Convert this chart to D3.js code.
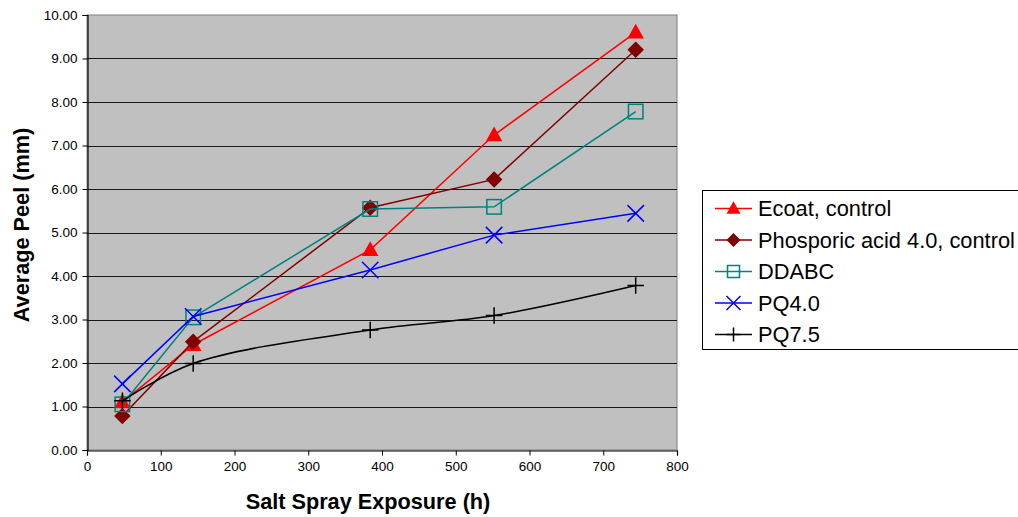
<!DOCTYPE html>
<html>
<head>
<meta charset="utf-8">
<script src="https://cdn.jsdelivr.net/npm/d3@7"></script>
<style>
  html, body { margin: 0; padding: 0; background: #fff; }
  svg { display: block; font-family: "Liberation Sans", Arial, sans-serif; }
</style>
</head>
<body>
<svg id="chart" width="1018" height="517"></svg>
<script>
// Exposure times (h)
const hours = [48, 144, 384, 552, 744];

// Average peel (mm) per coating
const ecoatControl = [1.10, 2.42, 4.60, 7.24, 9.60];
const phosporicControl = [0.78, 2.49, 5.57, 6.22, 9.20];
const ddabc = [1.05, 3.05, 5.54, 5.59, 7.78];
const pq40 = [1.52, 3.07, 4.14, 4.94, 5.44];
const pq75 = [1.13, 1.99, 2.76, 3.09, 3.78];

const seriesNames = ["Ecoat, control", "Phosporic acid 4.0, control", "DDABC", "PQ4.0", "PQ7.5"];
const yTicks = [0, 1, 2, 3, 4, 5, 6, 7, 8, 9, 10];
const xTicks = [0, 100, 200, 300, 400, 500, 600, 700, 800];

const series = [
  { name: seriesNames[0], values: ecoatControl, color: "#FF0000", marker: "triangle", smooth: false },
  { name: seriesNames[1], values: phosporicControl, color: "#800000", marker: "diamond", smooth: false },
  { name: seriesNames[2], values: ddabc, color: "#008080", marker: "square", smooth: false },
  { name: seriesNames[3], values: pq40, color: "#0000FF", marker: "x", smooth: false },
  { name: seriesNames[4], values: pq75, color: "#000000", marker: "plus", smooth: true }
];

const svg = d3.select("#chart");
const plot = { left: 87, top: 15, right: 677, bottom: 450 };

const x = d3.scaleLinear().domain([0, 800]).range([plot.left, plot.right]);
const y = d3.scaleLinear().domain([0, 10]).range([plot.bottom, plot.top]);

// plot background
svg.append("rect")
  .attr("x", plot.left).attr("y", plot.top)
  .attr("width", plot.right - plot.left).attr("height", plot.bottom - plot.top)
  .attr("fill", "#C0C0C0").attr("stroke", "#808080").attr("stroke-width", 1);

// horizontal gridlines
svg.append("g").selectAll("line")
  .data(yTicks.slice(1, -1))
  .join("line")
  .attr("x1", plot.left).attr("x2", plot.right)
  .attr("y1", d => Math.round(y(d)) + 0.5).attr("y2", d => Math.round(y(d)) + 0.5)
  .attr("stroke", "#1a1a1a").attr("stroke-width", 1);

// axes
const yAxis = svg.append("g")
  .attr("transform", `translate(${plot.left + 0.5},0)`)
  .call(d3.axisLeft(y).tickValues(yTicks).tickFormat(d3.format(".2f")).tickSize(5).tickPadding(5));
const xAxis = svg.append("g")
  .attr("transform", `translate(0,${plot.bottom + 0.5})`)
  .call(d3.axisBottom(x).tickValues(xTicks).tickFormat(d3.format("d")).tickSize(5).tickPadding(6));

[yAxis, xAxis].forEach(g => {
  g.select(".domain").attr("stroke", "#000").attr("stroke-width", 1.2);
  g.selectAll(".tick line").attr("stroke", "#000");
  g.selectAll(".tick text").attr("fill", "#000").attr("font-size", 13.5)
    .attr("font-family", "'Liberation Sans', Arial, sans-serif");
});

// axis titles
svg.append("text")
  .attr("x", 368).attr("y", 509)
  .attr("text-anchor", "middle")
  .attr("font-size", 21.7).attr("font-weight", "bold")
  .text("Salt Spray Exposure (h)");

svg.append("text")
  .attr("transform", "translate(29,225) rotate(-90)")
  .attr("text-anchor", "middle")
  .attr("font-size", 21.7).attr("font-weight", "bold")
  .text("Average Peel (mm)");

// marker drawing
function drawMarker(g, type, color, size) {
  const s = size / 2;
  if (type === "triangle") {
    g.append("path").attr("d", `M0,${-s * 1.05}L${s},${s * 0.75}L${-s},${s * 0.75}Z`).attr("fill", color);
  } else if (type === "diamond") {
    g.append("path").attr("d", `M0,${-s}L${s},0L0,${s}L${-s},0Z`).attr("fill", color);
  } else if (type === "square") {
    g.append("rect").attr("x", -s + 1).attr("y", -s + 1).attr("width", size - 2).attr("height", size - 2)
      .attr("fill", "none").attr("stroke", color).attr("stroke-width", 1.5);
  } else if (type === "x") {
    g.append("path").attr("d", `M${-s},${-s}L${s},${s}M${-s},${s}L${s},${-s}`)
      .attr("stroke", color).attr("stroke-width", 1.5).attr("fill", "none");
  } else if (type === "plus") {
    g.append("path").attr("d", `M${-s},0L${s},0M0,${-s}L0,${s}`)
      .attr("stroke", color).attr("stroke-width", 1.5).attr("fill", "none");
  }
}

const straight = d3.line().x((d, i) => x(hours[i])).y(d => y(d));
const smooth = d3.line().x((d, i) => x(hours[i])).y(d => y(d)).curve(d3.curveCatmullRom.alpha(0.5));

const seriesG = svg.append("g");
series.forEach(s => {
  const g = seriesG.append("g");
  g.append("path")
    .attr("d", (s.smooth ? smooth : straight)(s.values))
    .attr("fill", "none").attr("stroke", s.color).attr("stroke-width", 1.5);
  s.values.forEach((v, i) => {
    const m = g.append("g").attr("transform", `translate(${x(hours[i])},${y(v)})`);
    drawMarker(m, s.marker, s.color, 16.5);
  });
});

// legend
const legend = svg.append("g");
legend.append("rect")
  .attr("x", 702.5).attr("y", 190.5).attr("width", 330).attr("height", 159)
  .attr("fill", "#fff").attr("stroke", "#000").attr("stroke-width", 1);

series.forEach((s, i) => {
  const cy = 208.5 + i * 31.5;
  const row = legend.append("g");
  row.append("line").attr("x1", 715).attr("x2", 752).attr("y1", cy).attr("y2", cy)
    .attr("stroke", s.color).attr("stroke-width", 1.5);
  const m = row.append("g").attr("transform", `translate(733.5,${cy})`);
  drawMarker(m, s.marker, s.color, 14);
  row.append("text").attr("x", 758).attr("y", cy + 7.5)
    .attr("font-size", 21.8).attr("fill", "#000").text(s.name);
});
</script>
</body>
</html>
